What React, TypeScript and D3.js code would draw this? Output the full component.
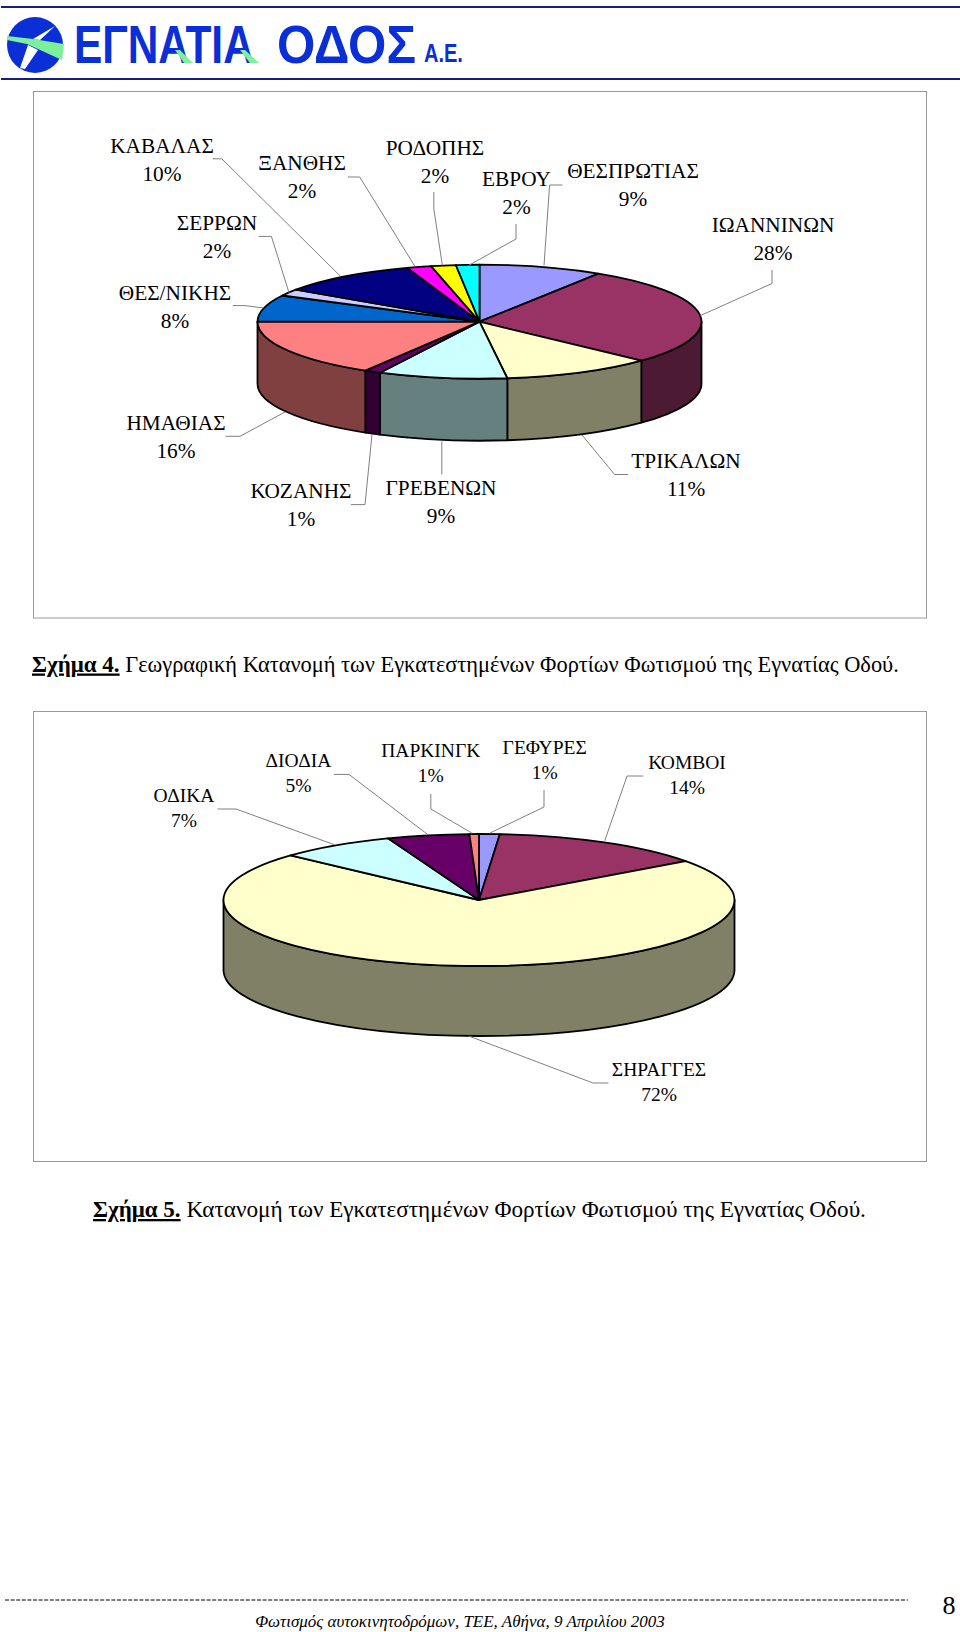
import * as d3 from "d3";

const SERIF = "'Liberation Serif', serif";
const SANS = "'Liberation Sans', sans-serif";

// figure 4: share of lighting load per prefecture, clockwise from 12 o'clock
const geoNames = ["ΘΕΣΠΡΩΤΙΑΣ", "ΙΩΑΝΝΙΝΩΝ", "ΤΡΙΚΑΛΩΝ", "ΓΡΕΒΕΝΩΝ", "ΚΟΖΑΝΗΣ", "ΗΜΑΘΙΑΣ", "ΘΕΣ/ΝΙΚΗΣ", "ΣΕΡΡΩΝ", "ΚΑΒΑΛΑΣ", "ΞΑΝΘΗΣ", "ΡΟΔΟΠΗΣ", "ΕΒΡΟΥ"];
const geoValues = [9, 28, 11, 9.4, 1.2, 16.4, 7.6, 1.9, 10.2, 1.8, 1.8, 1.7];
const geoColors = ["#9999ff", "#993366", "#ffffcc", "#ccffff", "#660066", "#ff8080", "#0066cc", "#ccccff", "#000080", "#ff00ff", "#ffff00", "#00ffff"];

// figure 5: share of lighting load per type of site
const typeNames = ["ΓΕΦΥΡΕΣ", "ΚΟΜΒΟΙ", "ΣΗΡΑΓΓΕΣ", "ΟΔΙΚΑ", "ΔΙΟΔΙΑ", "ΠΑΡΚΙΝΓΚ"];
const typeValues = [1.3, 13.7, 71.8, 7.4, 5.2, 0.6];
const typeColors = ["#9999ff", "#993366", "#ffffcc", "#ccffff", "#660066", "#ff8080"];

// label placement, same order as the names: [x, name baseline, leader points]
const geoLayout = [
  [633, 178, [[562.5, 185], [549.6, 185], [544, 265.4]]],
  [773, 232, [[772, 270], [772, 283.5], [700.4, 315.6]]],
  [686, 467.6, [[628, 474.5], [614.6, 474.5], [582, 435]]],
  [441, 494.5, [[441.8, 474.5], [441.8, 441.5]]],
  [301, 498, [[351, 504.6], [365, 504.6], [372, 434.3]]],
  [176, 430, [[225.5, 436.3], [240, 436.3], [285, 412]]],
  [175, 299.5, [[232.8, 305.6], [245, 305.6], [263.5, 308]]],
  [217, 230, [[258.6, 236.4], [271.4, 236.4], [289, 292.7]]],
  [162, 153, [[212.6, 158.8], [221.8, 158.8], [340, 275.8]]],
  [302, 170, [[348, 177], [359.7, 177], [414.8, 266.2]]],
  [435, 155, [[433.8, 192], [433.8, 209], [442.4, 265.4]]],
  [516.5, 186, [[516, 224], [516, 239], [468.7, 265.4]]],
];
const typeLayout = [
  [544.7, 753.8, [[544, 790], [544, 807], [490, 833]]],
  [687, 768.7, [[643.4, 776], [627, 776], [604.8, 840.7]]],
  [659, 1075.6, [[608.5, 1083], [593, 1083], [468.7, 1036]]],
  [184, 801.6, [[217.5, 809], [236, 809], [334, 844.6]]],
  [298.4, 766.8, [[334, 774.4], [349, 774.4], [427, 834]]],
  [430.8, 757, [[430.8, 794], [430.8, 809], [471.8, 833]]],
];

// the side walls are the top colour at half brightness
const dim = (c) => {
  const { r, g, b } = d3.rgb(c);
  return d3.rgb(r / 2, g / 2, b / 2).formatHex();
};

const Pie3D = ({ names, values, colors, layout, cx, cy, rx, ry, depth, fontSize, lineGap }) => {
  const slices = d3.pie().sort(null)(values);
  const arc = d3.arc().innerRadius(0).outerRadius(rx);
  const total = d3.sum(values);
  const pt = (a) => [cx + rx * Math.sin(a), cy - ry * Math.cos(a)];
  const leader = d3.line();

  const wall = (s) => {
    const a0 = Math.max(s.startAngle, Math.PI / 2);
    const a1 = Math.min(s.endAngle, (3 * Math.PI) / 2);
    if (a1 <= a0) return null;
    const [x0, y0] = pt(a0);
    const [x1, y1] = pt(a1);
    const large = a1 - a0 > Math.PI ? 1 : 0;
    return `M${x0},${y0}A${rx},${ry} 0 ${large} 1 ${x1},${y1}L${x1},${y1 + depth}A${rx},${ry} 0 ${large} 0 ${x0},${y0 + depth}Z`;
  };

  return (
    <g>
      {slices.map((s, i) => {
        const d = wall(s);
        return d ? <path key={i} d={d} fill={dim(colors[i])} stroke="#000" strokeWidth={1.8} strokeLinejoin="round" /> : null;
      })}
      <g transform={`translate(${cx},${cy}) scale(1,${ry / rx})`}>
        {slices.map((s, i) => (
          <path key={i} d={arc(s)} fill={colors[i]} stroke="#000" strokeWidth={1.8} strokeLinejoin="round" vectorEffect="non-scaling-stroke" />
        ))}
      </g>
      {layout.map((l, i) => (
        <g key={i}>
          <path d={leader(l[2])} fill="none" stroke="#808080" strokeWidth={1} />
          <text x={l[0]} y={l[1]} textAnchor="middle" fontSize={fontSize} fontFamily={SERIF}>{names[i]}</text>
          <text x={l[0]} y={l[1] + lineGap} textAnchor="middle" fontSize={fontSize} fontFamily={SERIF}>{`${Math.round((values[i] / total) * 100)}%`}</text>
        </g>
      ))}
    </g>
  );
};

const LogoWord = ({ x, y, sx, size, children }) => (
  <text transform={`translate(${x},${y}) scale(${sx},1)`} fontSize={size} fontWeight="bold" fontFamily={SANS} fill="#0b2fd6">{children}</text>
);

const Logo = () => (
  <g>
    <line x1={1} x2={960} y1={7} y2={7} stroke="#14207f" strokeWidth={2} />
    <line x1={1} x2={960} y1={79} y2={79} stroke="#14207f" strokeWidth={2} />
    <circle cx={35} cy={45} r={28} fill="#0b2fd6" />
    <path d="M7,36 L33,39 L64,44 L62,60 L27,44 L7,40 Z" fill="#7df09a" />
    <path d="M33,39 L55,26 L40,40 Z" fill="#fff" />
    <path d="M28,45 L38,50 L25,69 L20,68 Z" fill="#fff" />
    <LogoWord x={74} y={63} sx={0.8} size={53}>ΕΓΝΑΤΙΑ</LogoWord>
    <path d="M175,50 L180,50 L193,63 L184,63 Z M240,50 L245,50 L259,63 L250,63 Z" fill="#7df09a" />
    <LogoWord x={277} y={63} sx={0.93} size={53}>ΟΔΟΣ</LogoWord>
    <LogoWord x={424} y={62} sx={0.77} size={26}>Α.Ε.</LogoWord>
  </g>
);

const Caption = ({ x, y, label, rest, size }) => (
  <text x={x} y={y} fontSize={size} fontFamily={SERIF}>
    <tspan fontSize={23} fontWeight="bold" textDecoration="underline">{label}</tspan>
    <tspan>{` ${rest}`}</tspan>
  </text>
);

export default function App() {
  return (
    <svg width={960} height={1632} style={{ position: "absolute", left: 0, top: 0, display: "block" }}>
      <rect width={960} height={1632} fill="#fff" />
      <Logo />

      <rect x={33.5} y={91.5} width={893} height={526.5} fill="#fff" stroke="#999" strokeWidth={1} />
      <Pie3D names={geoNames} values={geoValues} colors={geoColors} layout={geoLayout} cx={479.5} cy={321.7} rx={222} ry={57} depth={62} fontSize={21.3} lineGap={28} />
      <Caption x={32} y={671.5} label="Σχήμα 4." rest="Γεωγραφική Κατανομή των Εγκατεστημένων Φορτίων Φωτισμού της Εγνατίας Οδού." size={22.4} />

      <rect x={33.5} y={711.5} width={893} height={450} fill="#fff" stroke="#999" strokeWidth={1} />
      <Pie3D names={typeNames} values={typeValues} colors={typeColors} layout={typeLayout} cx={479} cy={900} rx={255.5} ry={66} depth={70} fontSize={19.5} lineGap={25} />
      <Caption x={93} y={1217} label="Σχήμα 5." rest="Κατανομή των Εγκατεστημένων Φορτίων Φωτισμού της Εγνατίας Οδού." size={23.2} />

      <line x1={5} x2={908} y1={1600} y2={1600} stroke="#000" strokeWidth={1} strokeDasharray="4 1.6" />
      <text x={460} y={1627} textAnchor="middle" fontSize={17} fontStyle="italic" fontFamily={SERIF}>Φωτισμός αυτοκινητοδρόμων, ΤΕΕ, Αθήνα, 9 Απριλίου 2003</text>
      <text x={949} y={1614} textAnchor="middle" fontSize={26} fontFamily={SERIF}>8</text>
    </svg>
  );
}
